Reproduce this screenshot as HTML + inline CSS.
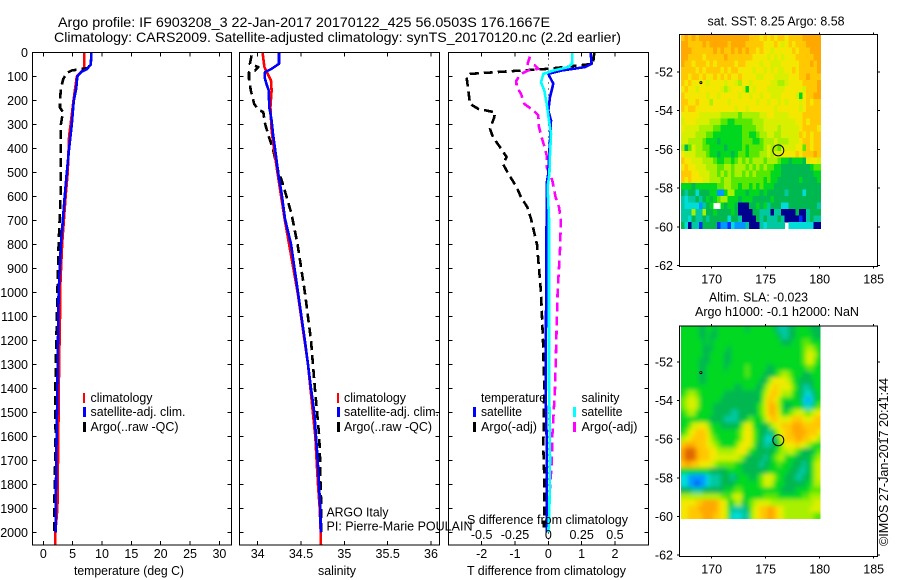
<!DOCTYPE html>
<html lang="en">
<head>
<meta charset="utf-8">
<title>Argo profile chart</title>
<style>
html,body{margin:0;padding:0;background:#fff;}
svg{display:block;position:absolute;left:0;top:0;}
text{font-family:"Liberation Sans",sans-serif;font-size:12.5px;fill:#000;}
</style>
</head>
<body>
<svg id="chart" xmlns="http://www.w3.org/2000/svg" width="900" height="580" viewBox="0 0 900 580">
  <defs>
    <filter id="sla-smooth" x="-10%" y="-10%" width="120%" height="120%">
      <feGaussianBlur stdDeviation="2.2"/>
    </filter>
    <clipPath id="sla-clip">
      <rect x="681" y="326" width="139.5" height="193"/>
    </clipPath>
  </defs>
  <rect x="0" y="0" width="900" height="580" fill="#fff"/>
  <g id="panels"></g>
  <text x="58" y="27" style="font-size:14px" textLength="492" lengthAdjust="spacingAndGlyphs">Argo profile: IF 6903208_3 22-Jan-2017 20170122_425 56.0503S 176.1667E</text>
  <text x="54" y="42" style="font-size:14px" textLength="567" lengthAdjust="spacingAndGlyphs">Climatology: CARS2009. Satellite-adjusted climatology: synTS_20170120.nc (2.2d earlier)</text>

  <text x="74" y="575" textLength="110" lengthAdjust="spacingAndGlyphs">temperature (deg C)</text>
  <text x="318" y="575" textLength="38" lengthAdjust="spacingAndGlyphs">salinity</text>
  <text x="467" y="575" textLength="159" lengthAdjust="spacingAndGlyphs">T difference from climatology</text>
  <text x="467" y="524" textLength="161" lengthAdjust="spacingAndGlyphs">S difference from climatology</text>

  <g>
    <rect x="83" y="393" width="2" height="10" fill="#f00"/>
    <rect x="83" y="407" width="3" height="10" fill="#00f"/>
    <rect x="83" y="422" width="3" height="10" fill="#000"/>
    <text x="90.5" y="402" textLength="62" lengthAdjust="spacingAndGlyphs">climatology</text>
    <text x="90.5" y="416" textLength="95" lengthAdjust="spacingAndGlyphs">satellite-adj. clim.</text>
    <text x="90.5" y="431" textLength="88" lengthAdjust="spacingAndGlyphs">Argo(..raw -QC)</text>
  </g>
  <g>
    <rect x="337" y="393" width="2" height="10" fill="#f00"/>
    <rect x="337" y="407" width="3" height="10" fill="#00f"/>
    <rect x="337" y="422" width="3" height="10" fill="#000"/>
    <text x="344" y="402" textLength="62" lengthAdjust="spacingAndGlyphs">climatology</text>
    <text x="344" y="416" textLength="95" lengthAdjust="spacingAndGlyphs">satellite-adj. clim.</text>
    <text x="344" y="431" textLength="88" lengthAdjust="spacingAndGlyphs">Argo(..raw -QC)</text>
  </g>
  <g>
    <text x="481" y="402" textLength="65" lengthAdjust="spacingAndGlyphs">temperature</text>
    <rect x="473" y="407" width="3" height="10" fill="#00f"/>
    <text x="481" y="416" textLength="41" lengthAdjust="spacingAndGlyphs">satellite</text>
    <rect x="473" y="422" width="3" height="10" fill="#000"/>
    <text x="481" y="431" textLength="56" lengthAdjust="spacingAndGlyphs">Argo(-adj)</text>
    <text x="581.5" y="402" textLength="38" lengthAdjust="spacingAndGlyphs">salinity</text>
    <rect x="573" y="407" width="3" height="10" fill="#0ff"/>
    <text x="581.5" y="416" textLength="41" lengthAdjust="spacingAndGlyphs">satellite</text>
    <rect x="573" y="422" width="3" height="10" fill="#f0f"/>
    <text x="581.5" y="431" textLength="56" lengthAdjust="spacingAndGlyphs">Argo(-adj)</text>
  </g>

  <text x="326.5" y="516.5" textLength="62" lengthAdjust="spacingAndGlyphs">ARGO Italy</text>
  <text x="326.5" y="530.5" textLength="146" lengthAdjust="spacingAndGlyphs">PI: Pierre-Marie POULAIN</text>

  <text x="707.5" y="25.5" textLength="137" lengthAdjust="spacingAndGlyphs">sat. SST: 8.25 Argo: 8.58</text>
  <text x="709" y="301.5" textLength="99" lengthAdjust="spacingAndGlyphs">Altim. SLA: -0.023</text>
  <text x="695" y="316" textLength="164" lengthAdjust="spacingAndGlyphs">Argo h1000: -0.1 h2000: NaN</text>

  <text transform="translate(888,546) rotate(-90)" x="0" y="0" textLength="168" lengthAdjust="spacingAndGlyphs">©IMOS 27-Jan-2017 20:41:44</text>
</svg>
<script>
/* ---------- axis ticks ---------- */
const depthTicks = [0,100,200,300,400,500,600,700,800,900,1000,1100,1200,1300,1400,1500,1600,1700,1800,1900,2000];
const tempTicks = [0,5,10,15,20,25,30];
const salinityTicks = [34,34.5,35,35.5,36];
const salinityTickLabels = ['34','34.5','35','35.5','36'];
const tDiffTicks = [-2,-1,0,1,2];
const sDiffTicks = [-0.5,-0.25,0,0.25,0.5];
const sDiffTickLabels = ['-0.5','-0.25','0','0.25','0.5'];
const lonTicks = [170,175,180,185];
const latTicks = [-52,-54,-56,-58,-60,-62];

/* ---------- temperature profiles ---------- */
const tempClimDepth = [0,50,70,100,200,300,350,500,600,800,1000,1100,1300,1600,1900,2000,2054];
const tempClimValues = [7,7,6.9,5.7,5.15,4.65,4.4,4.15,3.8,3.2,2.85,2.85,2.7,2.55,2.4,2.05,2.05];
const tempAdjDepth = [0,50,70,80,100,150,200,300,400,500,600,800,1000,1400,1500,1700,2000];
const tempAdjValues = [8.2,8.1,7.4,6.5,5.8,5.6,5.2,4.85,4.4,4.0,3.65,3.0,2.6,2.4,2.33,2.2,2.1];
const tempArgoDepth = [0,50,65,70,75,85,110,150,200,230,250,270,300,400,500,600,800,1000,1400,1600,1900,2000];
const tempArgoValues = [8.2,8.1,7.5,6.25,4.85,4,3.4,3,2.85,2.85,3.4,3.2,3,2.95,2.95,2.95,2.6,2.4,2.05,2.1,1.87,1.85];

/* ---------- salinity profiles ---------- */
const salClimDepth = [0,61,89,117,158,228,325,408,505,693,1000,1300,1600,1700,1800,1900,2000,2054];
const salClimValues = [34.057,34.077,34.115,34.153,34.16,34.146,34.16,34.19,34.23,34.31,34.46,34.58,34.665,34.68,34.696,34.715,34.727,34.73];
const salAdjDepth = [0,47,68,82,103,130,158,228,283,339,422,505,589,693,800,1000,1200,1300,1400,1500,1600,1700,1800,1900,2000];
const salAdjValues = [34.246,34.246,34.16,34.084,34.08,34.10,34.127,34.134,34.16,34.177,34.208,34.238,34.277,34.315,34.385,34.465,34.545,34.58,34.615,34.653,34.673,34.692,34.707,34.722,34.727];
const salArgoDepth = [12,47,61,75,82,110,158,214,235,249,297,353,408,478,533,603,672,800,1000,1200,1400,1500,1600,1700,1800,1900,2000];
const salArgoValues = [33.93,33.91,34.007,33.97,33.90,33.90,33.92,33.96,34.0,34.065,34.085,34.13,34.18,34.22,34.277,34.335,34.39,34.46,34.545,34.615,34.66,34.685,34.71,34.72,34.725,34.735,34.73];

/* ---------- difference profiles ---------- */
const tDiffSatDepth = [0,47,61,75,89,103,130,186,242,283,367,436,505,547,693,1400,1600,1800,2000];
const tDiffSatValues = [1.27,1.3,1.1,0.4,0,0.05,0.15,0.05,0,0.08,0.05,0.02,0,-0.05,-0.05,-0.08,-0.05,-0.05,-0.05];
const tDiffArgoDepth = [0,47,54,68,82,89,103,158,214,235,249,269,318,353,394,436,464,505,561,603,644,693,800,1000,1200,1396,1645,1770,1979];
const tDiffArgoValues = [1.38,1.34,0.9,0,-1.6,-2.35,-2.45,-2.4,-2.35,-2.1,-1.6,-1.62,-1.75,-1.66,-1.45,-1.25,-1.36,-1.2,-0.95,-0.82,-0.63,-0.52,-0.34,-0.22,-0.16,-0.12,-0.15,-0.12,-0.13];
const sDiffSatDepth = [0,47,61,75,89,124,158,214,283,339,422,505,561,693,1400,1500,1700,1900,2000];
const sDiffSatValues = [0.18,0.178,0.15,0.04,-0.0375,-0.055,-0.03,-0.012,0.005,0.02,0.013,0.008,-0.005,0.005,0.005,0.01,0.013,0.008,0];
const sDiffArgoDepth = [17,47,54,68,75,89,117,144,172,214,242,262,311,353,401,429,478,533,603,644,693,800,1000,1400,1600,1700,1800,1900,2000];
const sDiffArgoValues = [-0.137,-0.155,-0.1,-0.075,-0.15,-0.205,-0.24,-0.237,-0.205,-0.18,-0.11,-0.075,-0.07,-0.05,-0.025,-0.012,-0.012,0.03,0.055,0.08,0.093,0.09,0.07,0.05,0.03,0.026,0.015,0,-0.005];

/* ---------- map positions ---------- */
const argoLon = 176.1667;
const argoLat = -56.0503;
const islandLon = 169;
const islandLat = -52.55;

/* ---------- SST map cells (colour levels), north to south ---------- */
const sstRows = [
[11,12,11,12,11,12,12,12,12,12,12,12,12,12,12,12,12,12,12,11,11,11,10,11,10,11,10,11,11,10,11,11,11,11,12,12,12,12,12],
[12,12,11,11,11,11,12,11,12,12,12,12,12,11,12,12,12,12,11,11,11,11,11,10,10,10,11,10,9,10,11,10,11,11,11,12,12,12,12],
[12,12,12,11,11,11,11,11,11,12,11,12,11,11,12,11,12,11,12,11,11,10,11,10,10,9,10,10,10,10,10,11,10,11,11,11,12,12,12],
[12,12,11,11,11,11,10,11,11,11,11,11,12,11,11,11,11,11,11,11,10,10,10,10,9,10,9,10,9,10,10,10,11,11,11,11,11,12,12],
[12,11,11,10,11,11,11,10,11,10,11,11,11,11,11,10,11,11,10,10,10,10,9,10,10,9,9,9,10,10,10,10,10,11,11,11,12,11,12],
[11,11,11,11,10,11,10,11,11,11,11,10,11,10,11,11,10,10,10,10,9,10,10,9,10,9,10,9,9,10,10,11,10,11,11,11,11,11,12],
[11,11,10,11,11,10,11,10,10,11,10,11,10,11,10,10,11,10,10,10,10,9,9,10,10,10,9,9,9,9,10,10,10,11,11,12,11,11,11],
[11,10,11,10,10,10,10,9,10,10,10,10,9,10,10,9,8,10,10,9,10,10,10,10,10,9,9,8,8,9,10,10,10,10,11,11,11,11,12],
[10,11,10,10,9,10,10,10,10,10,10,9,8,9,10,10,10,9,6,10,9,10,10,10,9,9,9,9,9,10,10,10,10,10,9,11,11,11,12],
[11,10,10,10,10,10,10,9,10,10,9,10,10,10,10,10,9,10,10,9,10,10,9,10,10,9,9,9,10,10,10,10,9,6,10,11,11,12,12],
[11,11,10,10,11,10,10,10,8,10,10,10,10,9,10,10,10,10,10,10,10,9,10,10,9,10,10,9,10,9,10,10,10,9,10,11,10,11,11],
[11,10,11,11,10,10,10,10,10,10,10,10,10,10,10,9,10,10,9,10,10,10,10,10,10,10,9,10,10,10,10,10,10,9,10,11,11,11,11],
[10,10,10,10,10,9,9,9,9,9,9,8,8,8,8,8,7,8,8,8,8,8,9,9,10,10,9,9,9,9,10,10,10,10,11,11,11,11,11],
[9,10,10,10,9,9,9,9,8,8,8,7,7,6,6,7,7,7,7,7,8,8,8,9,9,9,9,9,9,9,9,9,10,10,11,10,11,11,11],
[10,9,9,9,9,8,8,8,8,7,7,6,6,6,6,6,6,7,7,7,7,8,8,9,9,9,9,8,9,9,9,9,9,10,11,11,11,11,10],
[9,9,9,9,8,8,8,7,7,6,6,6,6,6,6,6,6,7,7,6,6,7,8,8,9,9,8,8,9,9,9,9,9,11,10,11,10,11,11],
[9,9,8,8,8,8,7,6,6,6,5,6,6,6,6,6,6,7,7,7,6,6,7,8,8,8,9,8,8,8,9,9,9,10,11,11,10,11,11],
[8,5,7,9,8,8,7,7,6,6,6,6,5,6,6,6,6,7,6,7,7,7,7,8,9,8,8,7,9,9,9,9,10,10,7,11,10,11,11],
[10,9,9,9,8,8,8,7,6,6,5,6,6,6,5,6,7,7,6,7,7,7,8,8,9,8,9,9,10,10,10,10,11,10,11,11,11,12,11],
[11,10,10,9,9,9,8,8,8,7,6,6,7,7,6,7,8,7,8,7,8,8,8,7,8,8,8,7,6,6,5,6,6,6,5,9,10,10,9],
[10,11,10,10,9,9,9,8,8,8,7,7,8,8,7,8,8,8,7,8,7,8,7,8,7,7,6,6,5,5,5,5,5,5,5,5,6,7,7],
[11,11,11,10,10,9,9,9,8,8,7,8,7,8,7,8,8,7,8,7,8,7,7,7,7,6,6,6,5,5,5,5,5,5,5,5,5,6,6],
[11,10,11,10,10,10,9,9,8,8,8,7,8,8,7,7,7,7,7,7,7,7,7,6,7,6,6,5,5,5,5,5,5,6,5,5,5,5,6],
[6,6,6,5,6,6,6,6,6,6,7,7,8,8,7,7,6,7,7,6,7,6,7,6,6,6,5,5,5,5,5,5,5,5,5,5,5,5,5],
[5,4,5,5,3,5,5,5,6,6,2,2,6,8,8,6,6,6,5,6,6,6,5,6,5,5,5,5,5,4,5,5,5,5,3,5,5,5,5],
[4,3,4,4,5,4,5,6,5,6,7,8,8,6,6,6,5,6,6,6,5,5,5,5,5,6,5,5,5,5,5,5,5,5,5,5,5,5,5],
[4,3,3,3,3,2,4,5,6,null,null,6,5,6,6,5,0,0,0,5,5,6,5,6,4,5,5,5,3,3,5,5,5,5,5,5,5,5,4],
[4,4,4,8,4,4,8,5,5,6,5,5,5,5,6,5,0,0,0,0,5,5,4,4,4,0,4,4,0,0,0,0,5,0,0,4,5,5,5],
[4,4,3,5,4,4,5,4,5,5,5,5,5,3,5,5,4,0,0,0,0,5,4,5,4,4,4,5,4,0,0,0,0,1,0,4,5,4,4],
[5,3,0,4,4,1,5,5,5,5,1,2,2,1,3,2,2,2,4,0,0,0,4,3,4,4,4,4,4,null,3,3,3,3,3,3,3,0,0]
];

/* ---------- SLA map cells (colour levels), north to south ---------- */
const slaRows = [
[6,6,6,6,6,5,5,6,6,5,6,6,6,6,6,6,6,6,5,6,6,6,6,6,6,6,5,4,4,4,5,5,6,6,6,6,5,5,5],
[6,6,6,6,6,5,5,6,5,5,6,6,6,6,6,6,6,6,6,6,6,6,6,6,6,6,6,5,4,4,5,5,6,6,6,6,6,5,5],
[6,6,6,6,6,6,5,6,5,6,6,6,6,6,6,6,6,6,6,6,6,6,6,6,6,6,6,6,5,5,5,6,6,6,7,7,6,6,6],
[6,6,6,6,6,6,5,5,5,6,6,6,6,5,6,6,6,6,6,6,6,6,6,6,6,6,6,6,6,6,6,6,6,6,7,8,8,7,6],
[6,6,6,6,6,6,5,5,6,6,6,6,5,5,6,6,6,6,6,6,6,6,6,6,6,6,6,6,6,6,6,6,6,6,7,9,9,8,6],
[6,6,6,6,6,5,5,5,6,6,6,6,5,5,6,6,6,6,6,6,6,6,6,6,6,6,6,6,6,6,6,6,6,6,7,9,9,7,6],
[6,6,6,6,6,5,5,6,6,6,6,6,5,6,6,6,6,6,7,6,6,6,6,6,5,5,6,6,6,6,6,6,6,6,6,7,7,6,6],
[6,6,6,6,6,5,5,6,6,6,6,6,6,6,6,6,6,6,7,6,6,6,6,5,5,5,6,7,8,8,7,6,6,6,5,5,6,6,6],
[6,6,6,6,6,5,5,6,6,6,6,6,6,6,6,6,6,6,6,6,6,6,5,5,7,9,10,10,10,9,8,6,6,5,5,5,5,6,6],
[6,6,6,6,6,6,6,6,6,6,6,6,6,6,6,5,5,6,6,6,6,5,5,7,9,10,11,10,9,10,9,7,6,5,4,4,5,6,6],
[6,7,8,8,7,6,6,6,6,6,6,6,5,5,5,5,5,5,5,5,5,5,6,8,10,11,11,10,8,8,8,6,6,5,4,3,4,5,6],
[7,8,9,9,8,6,6,6,6,6,6,5,5,5,5,5,5,5,5,5,5,5,6,9,11,11,10,8,6,6,6,6,6,5,3,2,3,5,6],
[7,8,9,9,8,6,6,6,6,5,5,5,5,5,5,5,5,5,5,5,5,6,7,9,11,12,11,8,6,5,5,6,6,6,4,3,4,6,7],
[6,7,8,8,6,6,6,6,6,5,5,5,5,5,4,4,5,5,5,5,5,6,7,9,11,12,11,9,6,6,7,8,9,9,8,7,8,9,10],
[6,6,6,6,6,6,6,6,5,5,5,5,4,4,4,4,5,5,6,7,6,6,6,8,10,11,11,10,9,9,10,11,11,11,10,9,10,11,11],
[6,6,7,9,9,10,10,8,6,6,6,5,5,5,5,5,6,8,10,9,6,6,5,5,6,8,9,10,11,11,11,12,12,12,11,11,11,11,11],
[6,7,9,10,11,11,11,10,7,6,6,6,6,6,6,6,7,9,10,10,7,6,5,5,4,5,7,9,10,11,11,12,12,12,12,11,11,11,10],
[8,9,10,11,11,11,11,10,8,7,6,6,6,6,6,6,7,9,10,10,7,6,5,4,3,4,5,7,10,11,11,11,12,12,11,11,10,10,8],
[11,12,12,12,11,11,11,10,9,8,7,6,6,6,6,7,9,10,10,9,7,5,5,4,4,5,5,6,8,10,10,10,11,10,9,8,7,6,6],
[12,13,13,13,12,11,11,11,10,10,8,8,8,8,8,9,10,10,8,6,6,5,5,5,5,5,6,7,8,8,9,8,7,6,5,5,5,6,7],
[12,13,13,13,12,11,11,11,10,10,9,9,9,9,9,9,8,7,5,5,5,5,5,4,5,6,7,8,8,6,6,6,5,5,5,5,6,7,8],
[11,12,12,11,11,10,10,10,9,8,7,7,7,7,7,6,6,5,5,5,5,5,4,5,5,6,6,7,6,6,6,5,5,5,4,5,6,8,9],
[6,6,6,6,6,6,6,6,5,5,5,5,5,6,6,6,6,5,5,5,5,5,5,5,6,6,6,6,6,6,5,5,5,4,4,5,6,8,9],
[3,3,2,2,2,2,2,3,4,4,4,5,5,5,4,5,6,6,6,5,5,6,7,9,9,9,7,6,6,5,5,5,4,4,5,5,6,8,9],
[3,3,2,2,1,2,2,3,4,4,4,5,5,5,5,6,6,6,6,6,6,6,7,9,9,8,6,6,6,5,5,5,5,5,5,6,6,8,8],
[5,5,5,4,4,4,5,5,5,5,5,5,6,6,6,7,7,6,6,6,6,6,6,6,6,6,6,6,5,5,5,5,6,6,6,6,7,7,7],
[8,8,8,8,8,8,8,8,8,8,8,7,7,6,8,9,9,6,6,6,6,6,6,7,7,7,7,6,6,6,6,6,6,6,7,7,8,8,8],
[10,10,10,10,11,11,12,12,12,12,11,10,9,6,6,8,8,5,6,7,8,9,9,9,9,8,8,8,8,8,8,8,8,8,8,8,8,9,9],
[10,10,11,11,11,12,12,12,12,12,11,10,9,6,4,4,4,4,5,7,9,10,11,11,12,12,11,10,9,8,8,8,8,8,8,8,9,9,9],
[10,10,11,11,11,11,12,12,12,11,11,10,9,6,3,3,3,4,4,7,9,10,11,11,12,12,11,10,9,8,8,8,8,8,8,8,8,7,7]
];

const levelColors = ['#00008f','#0030ff','#0098ff','#00dcd8','#00c8a0','#00b850','#00d820','#58e800','#a8f000','#d8f000','#f4e800','#ffc800','#ffa800','#e06800'];

/* ---------- drawing ---------- */
const SVGNS = 'http://www.w3.org/2000/svg';
const panels = document.getElementById('panels');
const PANEL_TOP = 52.5, PANEL_BOTTOM = 545;

function yDepth(d){ return 52.5 + d * 0.24; }
function xTemp(t){ return 43.3 + t * 5.87; }
function xSal(s){ return 257.7 + (s - 34) * 86.65; }
function xTDiff(t){ return 548.3 + t * 33.33; }
function xSDiff(s){ return 548.3 + s * 133.3; }
function xLon(lon){ return 711.7 + (lon - 170) * 10.8; }

function make(tag, parent, props){
  const el = document.createElementNS(SVGNS, tag);
  for (const k in props) el.setAttribute(k, props[k]);
  parent.appendChild(el);
  return el;
}
function group(name){
  const g = make('g', panels, {});
  
  
  return g;
}
function line(parent, name, x1, y1, x2, y2){
  const l = make('line', parent, {x1:x1, y1:y1, x2:x2, y2:y2, stroke:'#000', 'stroke-width':1, 'shape-rendering':'crispEdges'});
  
  
  return l;
}
function label(parent, name, x, y, anchor, str){
  const t = make('text', parent, {x:x, y:y, 'text-anchor':anchor});
  t.textContent = str;
  
  
  return t;
}
function frame(parent, name, x, y, w, h){
  const r = make('rect', parent, {x:x, y:y, width:w, height:h, fill:'none', stroke:'#000', 'stroke-width':1, 'shape-rendering':'crispEdges'});
  
  
  return r;
}
function series(parent, name, depths, values, xFn, color, dash){
  const pts = depths.map(function(d, i){ return xFn(values[i]).toFixed(1) + ',' + yDepth(d).toFixed(1); }).join(' ');
  const props = {points:pts, fill:'none', stroke:color, 'stroke-width':2.6, 'shape-rendering':'crispEdges', 'stroke-linejoin':'round'};
  if (dash) props['stroke-dasharray'] = dash;
  const p = make('polyline', parent, props);
  
  
  return p;
}
function depthAxis(parent, left, right, withLabels){
  depthTicks.forEach(function(d){
    const y = yDepth(d);
    line(parent, 'depth-tick-left', left, y, left + 4, y);
    line(parent, 'depth-tick-right', right - 4, y, right, y);
    if (withLabels) label(parent, 'depth-tick-label', 28, y + 4.5, 'end', String(d));
  });
}
function xAxisTicks(parent, ticks, xFn){
  ticks.forEach(function(v){
    const x = xFn(v);
    line(parent, 'x-tick-top', x, PANEL_TOP, x, PANEL_TOP + 4);
    line(parent, 'x-tick-bottom', x, PANEL_BOTTOM - 4, x, PANEL_BOTTOM);
  });
}

/* temperature panel */
const tempPanel = group('temperature-panel');
series(tempPanel, 'temperature-climatology-line', tempClimDepth, tempClimValues, xTemp, '#f00');
series(tempPanel, 'temperature-argo-line', tempArgoDepth, tempArgoValues, xTemp, '#000', '9 5');
series(tempPanel, 'temperature-satellite-adj-line', tempAdjDepth, tempAdjValues, xTemp, '#00f');
frame(tempPanel, 'temperature-panel-frame', 32.5, PANEL_TOP, 199, PANEL_BOTTOM - PANEL_TOP);
depthAxis(tempPanel, 32.5, 231.5, true);
xAxisTicks(tempPanel, tempTicks, xTemp);
tempTicks.forEach(function(v){ label(tempPanel, 'temperature-tick-label', xTemp(v), 558, 'middle', String(v)); });

/* salinity panel */
const salPanel = group('salinity-panel');
series(salPanel, 'salinity-argo-line', salArgoDepth, salArgoValues, xSal, '#000', '9 5');
series(salPanel, 'salinity-climatology-line', salClimDepth, salClimValues, xSal, '#f00');
series(salPanel, 'salinity-satellite-adj-line', salAdjDepth, salAdjValues, xSal, '#00f');
frame(salPanel, 'salinity-panel-frame', 239.5, PANEL_TOP, 200, PANEL_BOTTOM - PANEL_TOP);
depthAxis(salPanel, 239.5, 439.5, false);
xAxisTicks(salPanel, salinityTicks, xSal);
salinityTicks.forEach(function(v, i){ label(salPanel, 'salinity-tick-label', xSal(v), 558, 'middle', salinityTickLabels[i]); });

/* difference panel */
const diffPanel = group('difference-panel');
const zeroLine = line(diffPanel, 'zero-difference-line', xTDiff(0), PANEL_TOP, xTDiff(0), PANEL_BOTTOM);
zeroLine.setAttribute('stroke-dasharray', '1 5');
series(diffPanel, 't-difference-argo-line', tDiffArgoDepth, tDiffArgoValues, xTDiff, '#000', '9 5');
series(diffPanel, 's-difference-argo-line', sDiffArgoDepth, sDiffArgoValues, xSDiff, '#f0f', '9 5');
series(diffPanel, 't-difference-satellite-line', tDiffSatDepth, tDiffSatValues, xTDiff, '#00f');
series(diffPanel, 's-difference-satellite-line', sDiffSatDepth, sDiffSatValues, xSDiff, '#0ff');
frame(diffPanel, 'difference-panel-frame', 448.5, PANEL_TOP, 200, PANEL_BOTTOM - PANEL_TOP);
depthAxis(diffPanel, 448.5, 648.5, false);
xAxisTicks(diffPanel, tDiffTicks, xTDiff);
tDiffTicks.forEach(function(v){ label(diffPanel, 't-difference-tick-label', xTDiff(v), 558, 'middle', String(v)); });
sDiffTicks.forEach(function(v, i){ label(diffPanel, 's-difference-tick-label', xSDiff(v), 539, 'middle', sDiffTickLabels[i]); });

/* maps */
function drawMap(name, rows, top, bottom, dataBottom, y52, pxPerDeg, smooth){
  const g = group(name);
  const yLat = function(lat){ return y52 + (-52 - lat) * pxPerDeg; };
  const left = 681, colW = 139.5 / 39;
  const rowH = (dataBottom - top) / rows.length;
  let cellParent = g;
  if (smooth) {
    const clipG = make('g', g, {'clip-path':'url(#sla-clip)'});
    
    
    cellParent = make('g', clipG, {filter:'url(#sla-smooth)'});
    
    
  }
  rows.forEach(function(row, j){
    row.forEach(function(v, i){
      if (v === null) return;
      let cx = left + i * colW, cy = top + j * rowH, cw = colW + 0.4, ch = rowH + 0.4;
      if (smooth) {
        if (i === 0) { cx -= 10; cw += 10; }
        if (i === row.length - 1) { cw += 10; }
        if (j === 0) { cy -= 10; ch += 10; }
        if (j === rows.length - 1) { ch += 10; }
      }
      const c = make('rect', cellParent, {
        x:cx.toFixed(2), y:cy.toFixed(2),
        width:cw.toFixed(2), height:ch.toFixed(2),
        fill:levelColors[v], 'shape-rendering':'crispEdges'
      });
      
      
    });
  });
  frame(g, name + '-frame', 679.5, top, 198, bottom - top);
  lonTicks.forEach(function(lon){
    const x = xLon(lon);
    line(g, 'longitude-tick-top', x, top - 2, x, top);
    line(g, 'longitude-tick-bottom', x, bottom, x, bottom + 2);
    label(g, 'longitude-tick-label', x, bottom + 17, 'middle', String(lon));
  });
  latTicks.forEach(function(lat){
    const y = yLat(lat);
    line(g, 'latitude-tick-left', 677, y, 679.5, y);
    line(g, 'latitude-tick-right', 877.5, y, 880, y);
    label(g, 'latitude-tick-label', 673, y + 4.5, 'end', String(lat));
  });
  const isl = make('circle', g, {cx:xLon(islandLon).toFixed(1), cy:yLat(islandLat).toFixed(1), r:1, fill:'#fff', stroke:'#000', 'stroke-width':1});
  
  
  const m = make('circle', g, {cx:xLon(argoLon).toFixed(1), cy:yLat(argoLat).toFixed(1), r:5.5, fill:'none', stroke:'#000', 'stroke-width':1});
  
  
}
drawMap('sst-map', sstRows, 34.5, 266.5, 228.5, 72, 19.35, false);
drawMap('sla-map', slaRows, 326, 556.5, 519, 362, 19.3, true);
</script>
</body>
</html>
